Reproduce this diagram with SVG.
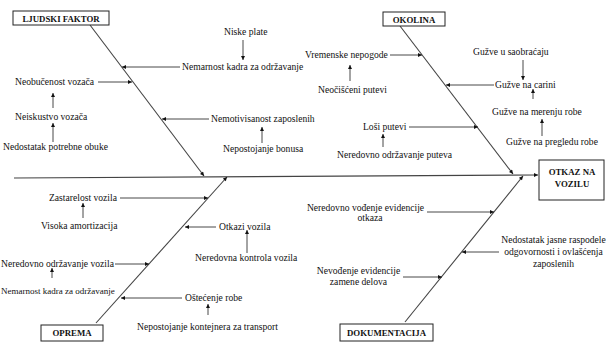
<svg xmlns="http://www.w3.org/2000/svg" width="606" height="344" viewBox="0 0 606 344">
<defs>
<marker id="ah" viewBox="0 0 10 10" refX="10" refY="5" markerWidth="5" markerHeight="4" markerUnits="userSpaceOnUse" orient="auto"><path d="M0,0 L10,5 L0,10 z" fill="#111"/></marker>
</defs>
<style>
text{font-family:"Liberation Serif","Times New Roman",serif;font-size:9.6px;fill:#111}
.t{font-weight:bold;font-size:8.8px;text-anchor:middle}
.c{text-anchor:middle}
.s{font-size:9px}
.box{fill:#fff;stroke:#222;stroke-width:1}
.bone{stroke:#444;stroke-width:1.1;fill:none;marker-end:url(#ah)}
.ar{stroke:#333;stroke-width:0.9;fill:none;marker-end:url(#ah)}
</style>
<rect width="606" height="344" fill="#fff"/>
<g id="connectors">
<line class="bone" x1="14" y1="178" x2="538" y2="175"/>
<line class="bone" x1="90" y1="25" x2="204" y2="176"/>
<line class="bone" x1="400" y1="26" x2="513" y2="174"/>
<line class="bone" x1="96" y1="323" x2="227" y2="177"/>
<line class="bone" x1="405" y1="322" x2="523" y2="176"/>
<line class="ar" x1="243" y1="40" x2="243" y2="60"/>
<line class="ar" x1="180" y1="67" x2="122" y2="67"/>
<line class="ar" x1="98" y1="82" x2="132" y2="82"/>
<line class="ar" x1="53" y1="108" x2="53" y2="93"/>
<line class="ar" x1="53" y1="142" x2="53" y2="123"/>
<line class="ar" x1="209" y1="119" x2="162" y2="119"/>
<line class="ar" x1="262" y1="143" x2="262" y2="127"/>
<line class="ar" x1="390" y1="55" x2="422" y2="55"/>
<line class="ar" x1="350" y1="81" x2="350" y2="65"/>
<line class="ar" x1="523" y1="60" x2="523" y2="80"/>
<line class="ar" x1="494" y1="85" x2="446" y2="85"/>
<line class="ar" x1="533" y1="99" x2="533" y2="89"/>
<line class="ar" x1="542" y1="136" x2="542" y2="119"/>
<line class="ar" x1="409" y1="127" x2="478" y2="127"/>
<line class="ar" x1="383" y1="147" x2="383" y2="134"/>
<line class="ar" x1="120" y1="198" x2="208" y2="198"/>
<line class="ar" x1="83" y1="218" x2="83" y2="203"/>
<line class="ar" x1="216" y1="227" x2="185" y2="227"/>
<line class="ar" x1="247" y1="253" x2="247" y2="230"/>
<line class="ar" x1="115" y1="264" x2="149" y2="264"/>
<line class="ar" x1="52" y1="278" x2="52" y2="268"/>
<line class="ar" x1="182" y1="298" x2="121" y2="298"/>
<line class="ar" x1="208" y1="315" x2="208" y2="304"/>
<line class="ar" x1="427" y1="212" x2="494" y2="212"/>
<line class="ar" x1="499" y1="252" x2="462" y2="252"/>
<line class="ar" x1="403" y1="277" x2="442" y2="277"/>
</g>
<g id="ljudski-faktor">
<rect class="box" x="13" y="11" width="96" height="14"/>
<text class="t" x="61" y="21.5">LJUDSKI FAKTOR</text>
</g>
<g id="okolina">
<rect class="box" x="383" y="12" width="62" height="14"/>
<text class="t" x="414" y="22.5">OKOLINA</text>
</g>
<g id="oprema">
<rect class="box" x="41" y="325" width="62" height="16"/>
<text class="t" x="72" y="336">OPREMA</text>
</g>
<g id="dokumentacija">
<rect class="box" x="340" y="324" width="93" height="17"/>
<text class="t" x="386.5" y="335.5">DOKUMENTACIJA</text>
</g>
<g id="otkaz">
<rect class="box" x="539" y="160" width="65" height="40"/>
<text class="t" x="572" y="175">OTKAZ NA</text>
<text class="t" x="572" y="187">VOZILU</text>
</g>
<g id="uzroci-ljudski">
<text x="224" y="35">Niske plate</text>
<text x="182" y="70">Nemarnost kadra za održavanje</text>
<text x="15" y="85">Neobučenost vozača</text>
<text x="15" y="120">Neiskustvo vozača</text>
<text x="3" y="150">Nedostatak potrebne obuke</text>
<text x="211" y="122">Nemotivisanost zaposlenih</text>
<text x="223" y="152">Nepostojanje bonusa</text>
</g>
<g id="uzroci-okolina">
<text x="305" y="58">Vremenske nepogode</text>
<text x="318" y="93">Neočišćeni putevi</text>
<text x="473" y="55">Gužve u saobraćaju</text>
<text x="495" y="88">Gužve na carini</text>
<text x="492" y="115">Gužve na merenju robe</text>
<text x="506" y="145">Gužve na pregledu robe</text>
<text x="363" y="130">Loši putevi</text>
<text x="337" y="158">Neredovno održavanje puteva</text>
</g>
<g id="uzroci-oprema">
<text x="49" y="201">Zastarelost vozila</text>
<text x="41" y="229">Visoka amortizacija</text>
<text x="219" y="230">Otkazi vozila</text>
<text x="195" y="261">Neredovna kontrola vozila</text>
<text x="1" y="267">Neredovno održavanje vozila</text>
<text class="s" x="1" y="294">Nemarnost kadra za održavanje</text>
<text x="185" y="301">Oštećenje robe</text>
<text x="137" y="330">Nepostojanje kontejnera za transport</text>
</g>
<g id="uzroci-dokumentacija">
<text class="c" x="365.5" y="211">Neredovno vođenje evidencije</text>
<text class="c" x="370" y="221">otkaza</text>
<text class="c" x="553.5" y="243">Nedostatak jasne raspodele</text>
<text class="c" x="553.5" y="255">odgovornosti i ovlašćenja</text>
<text class="c" x="553.5" y="267">zaposlenih</text>
<text class="c" x="358.5" y="274">Nevođenje evidencije</text>
<text class="c" x="358.5" y="285">zamene delova</text>
</g>
</svg>
